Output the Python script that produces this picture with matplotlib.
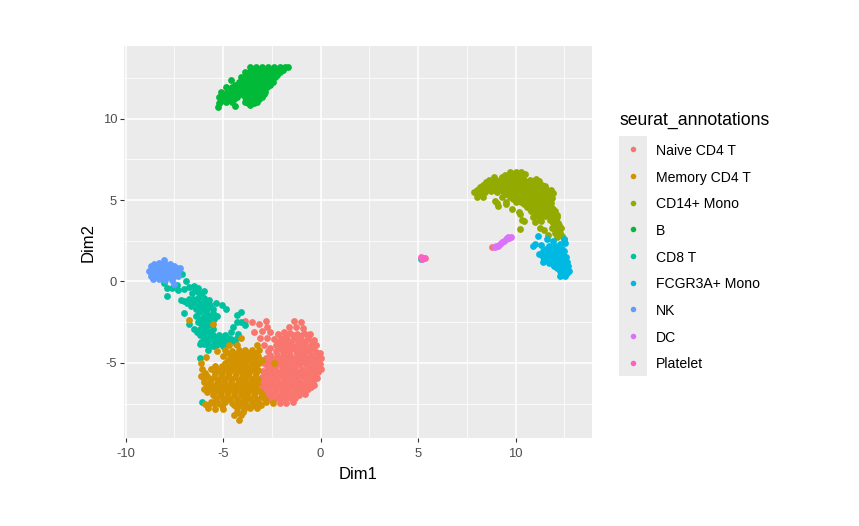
import matplotlib
matplotlib.use('Agg')
import matplotlib.pyplot as plt

plt.rcParams['font.family'] = ['Liberation Sans', 'DejaVu Sans']
plt.rcParams['axes.unicode_minus'] = False

# cell embeddings, one list per annotation
naive_cd4 = [(-3.85,-2.45),(-3.5,-2.5),(-3.15,-2.6),(-2.8,-2.45),(-2.75,-2.8),(-1.35,-2.45),(-1.0,-2.5),
    (-1.6,-2.8),(-1.25,-2.8),(-0.9,-2.85),(-3.4,-3.1),(-3.0,-3.05),(-2.6,-3.1),(-2.2,-3.2),(-1.9,-3.1),
    (-1.55,-3.15),(-1.2,-3.2),(-0.85,-3.15),(-0.55,-3.25),(-3.1,-3.5),(-2.75,-3.45),(-2.4,-3.55),(-2.05,-3.5),
    (-1.7,-3.55),(-1.35,-3.5),(-1.0,-3.55),(-0.65,-3.5),(-0.35,-3.6),(-2.9,-3.9),(-2.3,-3.9),(-1.95,-3.95),
    (-1.6,-3.9),(-1.25,-3.95),(-0.9,-3.9),(-0.55,-3.95),(-0.25,-3.9),(-2.7,-4.3),(-2.3,-4.3),(-1.95,-4.35),
    (-1.6,-4.3),(-1.25,-4.3),(-0.95,-4.35),(-0.6,-4.3),(-0.25,-4.35),(-0.05,-4.4),(-2.8,-4.7),(-2.45,-4.75),
    (-2.1,-4.7),(-1.75,-4.7),(-1.4,-4.75),(-1.05,-4.7),(-0.7,-4.7),(-0.35,-4.75),(0.0,-4.7),(-2.85,-5.1),
    (-2.5,-5.15),(-2.15,-5.1),(-1.8,-5.1),(-1.45,-5.15),(-1.1,-5.1),(-0.75,-5.1),(-0.4,-5.15),(-0.05,-5.1),
    (-2.95,-5.5),(-2.6,-5.5),(-2.25,-5.55),(-1.9,-5.5),(-1.55,-5.5),(-1.2,-5.55),(-0.85,-5.5),(-0.5,-5.5),
    (-0.15,-5.55),(0.02,-5.4),(-3.0,-5.9),(-2.65,-5.9),(-2.3,-5.95),(-1.95,-5.9),(-1.6,-5.9),(-1.25,-5.95),
    (-0.9,-5.9),(-0.55,-5.9),(-0.2,-5.95),(-3.05,-6.3),(-2.7,-6.3),(-2.35,-6.35),(-2.0,-6.3),(-1.65,-6.3),
    (-1.3,-6.35),(-0.95,-6.3),(-0.6,-6.3),(-0.35,-6.35),(-3.05,-6.7),(-2.7,-6.7),(-2.35,-6.75),(-2.0,-6.7),
    (-1.65,-6.7),(-1.3,-6.75),(-0.95,-6.7),(-0.65,-6.6),(-3.0,-7.1),(-2.65,-7.1),(-2.3,-7.15),(-1.95,-7.1),
    (-1.6,-7.1),(-1.3,-7.15),(-2.1,-7.45),(-1.75,-7.45),(-1.4,-7.4),(8.8,2.1),(5.35,1.45),
    (-1.75,-3.3),(-1.4,-3.3),(-1.05,-3.35),(-0.7,-3.3),(-2.2,-3.7),(-1.85,-3.7),(-1.5,-3.75),(-1.15,-3.7),
    (-0.8,-3.7),(-0.45,-3.75),(-2.6,-4.1),(-2.1,-4.1),(-1.75,-4.15),(-1.45,-4.1),(-1.1,-4.1),(-0.75,-4.15),
    (-0.4,-4.1),(-2.6,-4.5),(-2.25,-4.5),(-1.9,-4.55),(-1.55,-4.5),(-1.2,-4.5),(-0.85,-4.55),(-0.5,-4.5),
    (-0.15,-4.5),(-2.65,-4.9),(-2.3,-4.9),(-1.95,-4.95),(-1.6,-4.9),(-1.25,-4.9),(-0.9,-4.95),(-0.55,-4.9),
    (-0.2,-4.9),(-2.7,-5.3),(-2.35,-5.3),(-2.0,-5.35),(-1.65,-5.3),(-1.3,-5.3),(-0.95,-5.35),(-0.6,-5.3),
    (-0.25,-5.3),(-2.8,-5.7),(-2.45,-5.7),(-2.1,-5.75),(-1.75,-5.7),(-1.4,-5.7),(-1.05,-5.75),(-0.7,-5.7),
    (-0.35,-5.7),(-2.85,-6.1),(-2.5,-6.1),(-2.15,-6.15),(-1.8,-6.1),(-1.45,-6.1),(-1.1,-6.15),(-0.75,-6.1),
    (-0.4,-6.1),(-2.9,-6.5),(-2.55,-6.5),(-2.2,-6.55),(-1.85,-6.5),(-1.5,-6.5),(-1.15,-6.55),(-0.8,-6.5),
    (-0.5,-6.5),(-2.85,-6.9),(-2.5,-6.9),(-2.15,-6.95),(-1.8,-6.9),(-1.45,-6.9),(-1.1,-6.95),(-0.8,-6.9),
    (-2.5,-7.3),(-2.1,-7.3),(-1.8,-7.3),(-1.45,-7.25)]

memory_cd4 = [(-4.7,-3.9),(-4.27,-3.9),(-3.25,-3.9),(-5.3,-4.3),(-4.9,-4.2),(-4.55,-4.3),(-4.2,-4.2),
    (-3.85,-4.2),(-3.5,-4.2),(-3.15,-4.2),(-5.0,-4.6),(-4.6,-4.65),(-4.25,-4.6),(-3.9,-4.6),(-3.55,-4.65),
    (-3.2,-4.6),(-3.0,-4.8),(-6.15,-5.0),(-4.9,-5.0),(-4.55,-5.05),(-4.2,-5.0),(-3.85,-5.0),(-3.5,-5.05),
    (-3.15,-5.0),(-6.1,-5.4),(-5.6,-5.4),(-5.25,-5.45),(-4.9,-5.4),(-4.55,-5.4),(-4.2,-5.45),(-3.85,-5.4),
    (-3.5,-5.4),(-3.2,-5.45),(-6.15,-5.8),(-5.8,-5.8),(-5.45,-5.85),(-5.1,-5.8),(-4.75,-5.8),(-4.4,-5.85),
    (-4.05,-5.8),(-3.7,-5.8),(-3.35,-5.85),(-6.0,-6.2),(-5.65,-6.2),(-5.3,-6.25),(-4.95,-6.2),(-4.6,-6.2),
    (-4.25,-6.25),(-3.9,-6.2),(-3.55,-6.2),(-3.25,-6.25),(-6.0,-6.6),(-5.65,-6.6),(-5.3,-6.65),(-4.95,-6.6),
    (-4.6,-6.6),(-4.25,-6.65),(-3.9,-6.6),(-3.55,-6.6),(-3.2,-6.65),(-5.5,-7.0),(-5.15,-7.0),(-4.8,-7.05),
    (-4.45,-7.0),(-4.1,-7.0),(-3.75,-7.05),(-3.4,-7.0),(-3.0,-7.05),(-5.95,-7.5),(-5.6,-7.4),(-5.25,-7.45),
    (-4.9,-7.4),(-4.55,-7.45),(-4.2,-7.4),(-3.85,-7.45),(-3.5,-7.4),(-3.15,-7.45),(-2.8,-7.4),(-2.45,-7.45),
    (-5.75,-7.8),(-5.4,-7.85),(-5.0,-7.85),(-4.3,-7.8),(-3.95,-7.85),(-3.6,-7.8),(-3.25,-7.8),(-4.45,-8.2),
    (-4.1,-8.2),(-4.2,-8.5),(-6.75,-2.37),(-5.54,-2.61),(-4.07,-3.49),(-5.88,-4.65),(-2.38,-5.0),
    (-4.75,-4.4),(-4.4,-4.45),(-4.05,-4.4),(-3.7,-4.4),(-3.35,-4.4),(-4.75,-4.8),(-4.4,-4.85),(-4.05,-4.8),
    (-3.7,-4.8),(-3.35,-4.8),(-5.4,-5.2),(-5.05,-5.2),(-4.7,-5.25),(-4.35,-5.2),(-4.0,-5.2),(-3.65,-5.25),
    (-3.3,-5.2),(-5.95,-5.6),(-5.4,-5.6),(-5.05,-5.65),(-4.7,-5.6),(-4.35,-5.6),(-4.0,-5.65),(-3.65,-5.6),
    (-3.3,-5.6),(-6.0,-6.0),(-5.6,-6.0),(-5.25,-6.05),(-4.9,-6.0),(-4.55,-6.0),(-4.2,-6.05),(-3.85,-6.0),
    (-3.5,-6.0),(-3.2,-6.0),(-5.8,-6.4),(-5.45,-6.4),(-5.1,-6.45),(-4.75,-6.4),(-4.4,-6.4),(-4.05,-6.45),
    (-3.7,-6.4),(-3.35,-6.4),(-5.8,-6.8),(-5.45,-6.8),(-5.1,-6.85),(-4.75,-6.8),(-4.4,-6.8),(-4.05,-6.85),
    (-3.7,-6.8),(-3.35,-6.8),(-3.05,-6.85),(-5.35,-7.2),(-5.0,-7.2),(-4.65,-7.25),(-4.3,-7.2),(-3.95,-7.2),
    (-3.6,-7.25),(-3.25,-7.2),(-2.85,-7.2),(-5.75,-7.6),(-5.4,-7.6),(-5.05,-7.65),(-4.45,-7.6),(-4.1,-7.6),
    (-3.75,-7.65),(-3.4,-7.6),(-3.05,-7.6),(-4.3,-8.0),(-4.0,-8.0)]

cd14_mono = [(9.7,6.75),(10.0,6.75),(10.3,6.7),(8.87,6.43),(9.3,6.45),(9.6,6.4),(9.9,6.45),(10.2,6.4),(10.5,6.6),
    (8.5,6.1),(8.8,6.1),(9.1,6.15),(9.4,6.1),(9.7,6.1),(10.0,6.15),(10.3,6.1),(10.6,6.1),(10.9,6.15),(11.2,6.2),
    (8.18,5.8),(8.5,5.8),(8.8,5.85),(9.1,5.8),(9.4,5.8),(9.7,5.85),(10.0,5.8),(10.3,5.8),(10.6,5.85),(10.9,5.8),
    (11.2,5.8),(11.5,5.85),(7.85,5.5),(8.15,5.5),(8.45,5.5),(8.75,5.55),(9.05,5.5),(9.4,5.5),(9.75,5.55),(10.1,5.5),
    (10.45,5.5),(10.8,5.55),(11.1,5.5),(11.4,5.5),(11.7,5.55),(11.9,5.45),(8.0,5.2),(8.35,5.2),(9.3,5.2),(9.7,5.2),
    (10.0,5.25),(10.35,5.2),(10.7,5.2),(11.0,5.25),(11.3,5.2),(11.6,5.2),(11.85,5.15),(9.5,4.9),(10.0,4.9),(10.3,4.9),
    (10.7,4.9),(11.0,4.9),(11.3,4.95),(11.6,4.9),(11.8,4.85),(9.04,4.8),(8.95,4.95),(9.12,4.63),(9.5,4.75),(10.6,4.6),
    (10.9,4.6),(11.2,4.65),(11.5,4.6),(11.8,4.6),(9.81,4.43),(10.2,4.29),(10.22,4.15),(10.8,4.3),(11.1,4.3),(11.4,4.35),
    (11.7,4.3),(12.0,4.3),(10.33,3.78),(10.45,3.73),(10.9,3.95),(11.2,3.95),(11.5,4.0),(11.8,3.95),(12.1,3.95),
    (11.0,3.65),(11.3,3.7),(11.9,3.6),(12.2,3.6),(11.85,3.3),(12.15,3.3),(12.35,3.3),(11.27,3.27),(11.48,3.16),
    (12.0,3.0),(12.3,3.0),(10.24,3.24),(12.1,2.75),(12.4,2.8),(11.67,2.86),(12.47,2.6),
    (9.45,6.55),(9.75,6.55),(10.05,6.6),(10.35,6.5),(8.65,6.25),(8.95,6.25),(9.25,6.3),(9.55,6.25),(9.85,6.25),
    (10.15,6.3),(10.45,6.25),(10.75,6.25),(11.05,6.3),(8.35,5.95),(8.65,5.95),(8.95,6.0),(9.25,5.95),(9.55,5.95),
    (9.85,6.0),(10.15,5.95),(10.45,5.95),(10.75,6.0),(11.05,5.95),(11.35,5.95),(8.0,5.65),(8.3,5.65),(8.6,5.7),
    (8.9,5.65),(9.25,5.65),(9.55,5.7),(9.9,5.65),(10.25,5.65),(10.6,5.7),(10.95,5.65),(11.25,5.65),(11.55,5.7),
    (11.8,5.65),(8.2,5.35),(9.5,5.35),(9.85,5.4),(10.2,5.35),(10.55,5.35),(10.9,5.4),(11.2,5.35),(11.5,5.35),
    (11.75,5.35),(9.85,5.05),(10.15,5.05),(10.5,5.1),(10.85,5.05),(11.15,5.05),(11.45,5.1),(11.75,5.05),(10.45,4.75),
    (10.8,4.75),(11.1,4.8),(11.4,4.75),(11.7,4.75),(10.75,4.45),(11.05,4.45),(11.35,4.5),(11.65,4.45),(11.9,4.45),
    (11.0,4.1),(11.3,4.1),(11.6,4.15),(11.9,4.1),(12.1,4.1),(11.75,3.75),(12.05,3.75),(12.0,3.45),(12.25,3.45),(12.15,3.15)]

b_cells = [(-3.6,13.15),(-3.3,13.15),(-3.0,13.15),(-2.7,13.15),(-2.4,13.15),(-2.1,13.15),(-1.8,13.15),(-1.65,13.15),
    (-3.9,12.85),(-3.6,12.85),(-3.3,12.85),(-3.0,12.85),(-2.7,12.85),(-2.4,12.85),(-2.1,12.85),(-4.1,12.55),(-3.8,12.55),
    (-3.5,12.55),(-3.2,12.55),(-2.9,12.55),(-2.6,12.55),(-2.35,12.55),(-4.2,12.25),(-3.95,12.25),(-3.65,12.25),
    (-3.35,12.25),(-3.05,12.25),(-2.75,12.25),(-2.45,12.25),(-4.6,12.4),(-4.85,11.95),(-4.55,11.95),(-4.25,11.95),
    (-3.95,11.95),(-3.65,11.95),(-3.35,11.95),(-3.05,11.95),(-2.75,11.95),(-5.1,11.65),(-4.8,11.65),(-4.5,11.65),
    (-4.2,11.65),(-3.9,11.65),(-3.6,11.65),(-3.3,11.65),(-3.0,11.65),(-2.85,11.65),(-5.2,11.35),(-4.9,11.35),(-4.6,11.35),
    (-4.3,11.35),(-3.9,11.35),(-3.6,11.35),(-3.3,11.35),(-3.0,11.35),(-5.15,11.05),(-4.85,11.05),(-4.55,11.05),
    (-3.85,11.05),(-3.55,11.05),(-3.25,11.05),(-5.25,10.75),(-4.38,10.8),(-3.6,10.85),
    (-3.45,13.0),(-3.15,13.0),(-2.85,13.0),(-2.55,13.0),(-2.25,13.0),(-1.95,13.0),(-3.75,12.7),(-3.45,12.7),(-3.15,12.7),
    (-2.85,12.7),(-2.55,12.7),(-2.25,12.7),(-4.0,12.4),(-3.65,12.4),(-3.35,12.4),(-3.05,12.4),(-2.75,12.4),(-2.5,12.4),
    (-4.4,12.1),(-4.1,12.1),(-3.8,12.1),(-3.5,12.1),(-3.2,12.1),(-2.9,12.1),(-2.6,12.1),(-4.7,11.8),(-4.4,11.8),(-4.1,11.8),
    (-3.8,11.8),(-3.5,11.8),(-3.2,11.8),(-2.9,11.8),(-5.05,11.5),(-4.75,11.5),(-4.45,11.5),(-4.1,11.5),(-3.75,11.5),
    (-3.45,11.5),(-3.15,11.5),(-2.9,11.5),(-5.05,11.2),(-4.75,11.2),(-4.45,11.2),(-3.75,11.2),(-3.45,11.2),(-3.15,11.2),
    (-5.2,10.95),(-3.7,10.95),(-3.4,10.95)]

cd8_t = [(-7.1,0.45),(-6.9,0.05),(-8.03,-0.12),(-7.9,-0.43),(-7.85,-0.92),(-7.6,-0.4),(-7.35,-0.2),(-7.3,-0.55),(-7.0,-0.45),
    (-6.75,-0.35),(-6.5,-0.3),(-6.6,-0.7),(-6.3,-0.65),(-6.0,-0.6),(-6.3,-0.43),(-6.3,-1.0),(-6.0,-1.0),(-7.18,-1.15),
    (-6.85,-1.3),(-6.5,-1.25),(-6.2,-1.3),(-5.85,-1.25),(-5.73,-1.15),(-5.38,-1.35),(-5.04,-1.45),(-4.84,-1.7),(-6.4,-1.7),
    (-6.1,-1.7),(-5.8,-1.7),(-5.5,-1.7),(-7.0,-1.96),(-6.4,-2.1),(-6.0,-2.1),(-5.7,-2.1),(-5.3,-2.1),(-6.3,-2.5),(-6.75,-2.6),
    (-5.95,-2.5),(-5.6,-2.5),(-6.5,-2.9),(-6.2,-2.9),(-5.85,-2.9),(-5.5,-2.9),(-6.2,-3.3),(-5.85,-3.3),(-5.5,-3.3),(-5.2,-3.3),
    (-4.9,-3.3),(-4.6,-3.1),(-6.15,-3.7),(-5.8,-3.7),(-5.45,-3.7),(-5.1,-3.7),(-4.85,-3.7),(-4.6,-3.55),(-4.3,-3.5),(-5.5,-3.95),
    (-5.0,-3.95),(-4.7,-3.75),(-6.19,-3.86),(-5.78,-3.9),(-5.78,-4.24),(-5.4,-3.94),(-6.19,-4.7),(-6.07,-7.43),(-4.07,-1.88),
    (-4.27,-2.08),(-4.27,-2.49),(-4.1,-2.49),(-3.85,-2.67),(-4.48,-2.78),(-4.24,-3.24),(-4.36,-3.86),(5.15,1.35),
    (-6.45,-0.5),(-6.15,-0.85),(-6.55,-1.05),(-6.75,-1.05),(-7.0,-1.2),(-6.65,-1.5),(-6.3,-1.5),(-5.95,-1.5),(-5.65,-1.45),
    (-6.25,-1.9),(-5.85,-1.9),(-5.5,-1.95),(-6.2,-2.3),(-5.85,-2.3),(-5.45,-2.3),(-6.1,-2.7),(-5.75,-2.7),(-6.35,-3.1),
    (-6.0,-3.1),(-5.65,-3.1),(-6.0,-3.5),(-5.65,-3.5),(-5.3,-3.5),(-5.0,-3.5),(-4.75,-3.45),(-6.0,-3.85),(-5.25,-3.85),(-4.45,-3.65)]

fcgr3a_mono = [(11.15,2.8),(11.6,2.6),(11.9,2.5),(12.47,2.6),(12.3,2.3),(12.56,2.35),(10.88,2.18),(11.0,2.28),(11.3,2.24),
    (11.7,2.2),(12.0,2.15),(12.2,2.1),(11.4,1.85),(11.7,1.85),(12.0,1.85),(12.3,1.85),(12.5,1.85),(11.19,1.7),(11.4,1.5),(11.7,1.5),
    (12.0,1.5),(12.3,1.5),(12.6,1.5),(11.4,1.2),(11.75,1.2),(12.05,1.2),(12.35,1.2),(12.65,1.2),(11.7,1.12),(12.05,0.95),(12.4,0.95),
    (12.7,0.95),(11.96,0.92),(12.3,0.65),(12.55,0.65),(12.75,0.65),(12.3,0.35),(12.55,0.35),(12.47,0.4),(12.5,0.6),
    (11.55,2.0),(11.85,2.0),(12.15,2.0),(12.4,2.0),(11.55,1.7),(11.85,1.7),(12.15,1.7),(12.45,1.7),(11.55,1.35),(11.85,1.35),
    (12.15,1.35),(12.45,1.35),(11.9,1.05),(12.2,1.05),(12.55,1.05),(12.15,0.8),(12.5,0.8),(12.4,0.5),(12.65,0.5)]

nk_cells = [(-8.3,1.15),(-8.03,1.3),(-8.0,1.1),(-8.7,0.95),(-8.4,0.95),(-8.1,0.95),(-7.8,0.95),(-7.5,0.95),(-8.8,0.65),(-8.5,0.65),
    (-8.2,0.65),(-7.9,0.65),(-7.6,0.65),(-7.3,0.65),(-7.2,0.85),(-8.7,0.35),(-8.4,0.35),(-8.1,0.35),(-7.8,0.35),(-7.5,0.35),(-7.3,0.35),
    (-8.6,0.15),(-8.3,0.15),(-8.0,0.1),(-7.5,-0.15),(-7.6,0.1),(-8.55,1.1),(-7.7,1.1),(-8.55,0.8),(-8.25,0.8),(-7.95,0.8),(-7.65,0.8),
    (-7.35,0.8),(-8.55,0.5),(-8.25,0.5),(-7.95,0.5),(-7.65,0.5),(-7.4,0.5),(-8.25,0.25),(-7.95,0.25),(-7.65,0.25)]

dc_cells = [(8.95,2.1),(9.0,2.15),(9.1,2.2),(9.2,2.3),(9.3,2.4),(9.4,2.5),(9.5,2.6),(9.55,2.65),(9.65,2.7),(9.6,2.75),(9.75,2.75)]

platelet = [(5.17,1.49),(5.29,1.43),(5.2,1.4)]

annotations = ['Naive CD4 T', 'Memory CD4 T', 'CD14+ Mono', 'B', 'CD8 T',
               'FCGR3A+ Mono', 'NK', 'DC', 'Platelet']
hue_colors = ['#F8766D', '#D39200', '#93AA00', '#00BA38', '#00C19F',
              '#00B9E3', '#619CFF', '#DB72FB', '#FF61C3']
clusters = [naive_cd4, memory_cd4, cd14_mono, b_cells, cd8_t,
            fcgr3a_mono, nk_cells, dc_cells, platelet]
# order the clusters get painted in, the stray orange cells sit on top of the teal ones
draw_order = [0, 4, 1, 2, 3, 5, 6, 7, 8]

x_ticks = [-10, -5, 0, 5, 10]
y_ticks = [-5, 0, 5, 10]
x_minor = [-7.5, -2.5, 2.5, 7.5, 12.5]
y_minor = [-7.5, -2.5, 2.5, 7.5, 12.5]

W, H = 859, 526
fig = plt.figure(figsize=(W / 100, H / 100), dpi=100)
ax = fig.add_axes([124 / W, 1 - 438 / H, 468 / W, 392 / H])
ax.set_facecolor('#EBEBEB')

for i in draw_order:
    xs = [p[0] for p in clusters[i]]
    ys = [p[1] for p in clusters[i]]
    ax.scatter(xs, ys, s=24, color=hue_colors[i], linewidths=0, zorder=3)

ax.set_xlim(-10.08, 13.92)
ax.set_ylim(-9.62, 14.47)
ax.set_xticks(x_ticks)
ax.set_yticks(y_ticks)
ax.set_xticks(x_minor, minor=True)
ax.set_yticks(y_minor, minor=True)
ax.grid(which='major', color='white', linewidth=1.1, zorder=1)
ax.grid(which='minor', color='white', linewidth=0.55, zorder=1)
ax.set_axisbelow(True)
ax.tick_params(which='major', length=3, width=0.8, color='#333333', labelcolor='#4D4D4D', labelsize=9.4, pad=2)
ax.tick_params(axis='x', which='major', pad=4)
ax.tick_params(which='minor', length=0)
for side in ax.spines.values():
    side.set_visible(False)
ax.set_xlabel('Dim1', fontsize=12, color='black', labelpad=5)
ax.set_ylabel('Dim2', fontsize=12, color='black', labelpad=5)

# legend drawn on its own axes so the grey key strip stays behind the keys only
key_ax = fig.add_axes([619 / W, 1 - 376 / H, 28 / W, 240 / H])
key_ax.set_facecolor('#EBEBEB')
key_ax.set_xlim(0, 1)
key_ax.set_ylim(len(annotations), 0)
key_ax.set_xticks([])
key_ax.set_yticks([])
for side in key_ax.spines.values():
    side.set_visible(False)
for i, name in enumerate(annotations):
    key_ax.scatter([0.5], [i + 0.5], s=16, color=hue_colors[i], linewidths=0)
    key_ax.text(37 / 28, i + 0.56, name, fontsize=10.1, color='black', va='center', ha='left', clip_on=False)
fig.text(619 / W, 1 - 120 / H, 'seurat_annotations', fontsize=12.7, color='black', va='center', ha='left')

fig.savefig('out.png', dpi=100)
